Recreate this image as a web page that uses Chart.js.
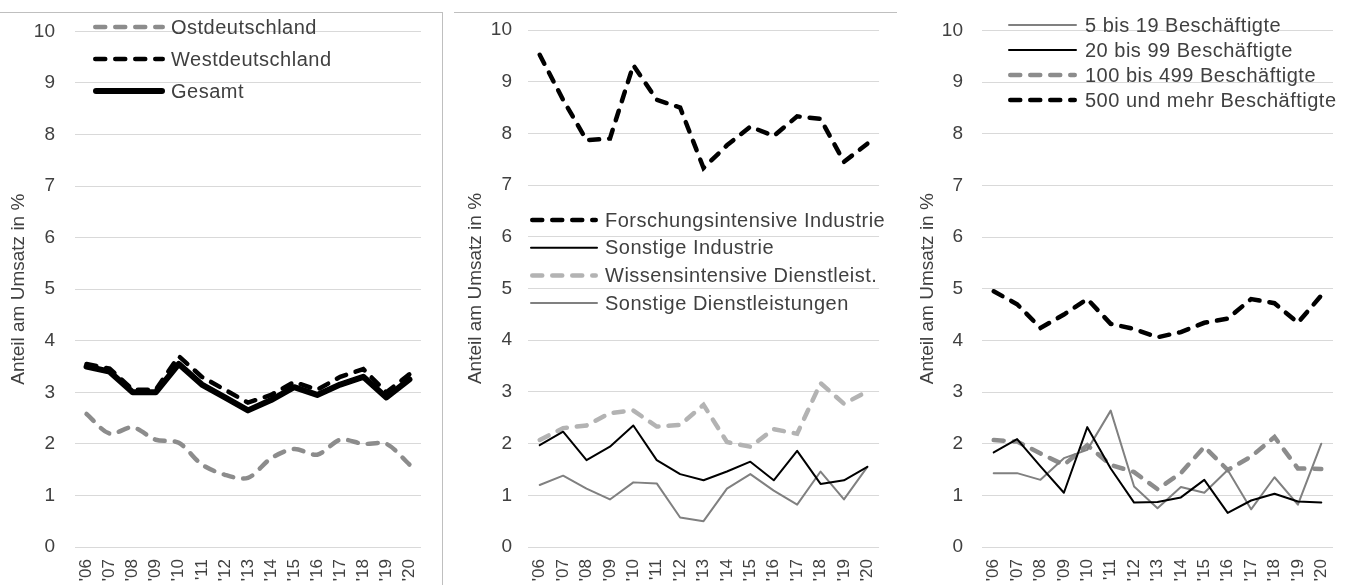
<!DOCTYPE html>
<html lang="de">
<head>
<meta charset="utf-8">
<title>Anteil am Umsatz</title>
<script src="https://cdn.jsdelivr.net/npm/chart.js@4.4.1/dist/chart.umd.min.js"></script>
<style>
    body { margin: 0; background: #fff; width: 1354px; height: 585px; overflow: hidden; position: relative; }
    .frame { position: absolute; border: 0 solid #bfbfbf; }
    .panel { position: absolute; top: 0; }
</style>
</head>
<body>
<div class="frame" style="left:0;top:12px;width:442px;height:573px;border-top-width:1px;border-right-width:1px"></div>
<div class="frame" style="left:454px;top:12px;width:443px;height:0;border-top-width:1px"></div>
<div class="panel" style="left:0"><canvas id="chart-region" width="442" height="585"></canvas></div>
<div class="panel" style="left:446px"><canvas id="chart-branch" width="454" height="585"></canvas></div>
<div class="panel" style="left:904px"><canvas id="chart-size" width="450" height="585"></canvas></div>
<script>
const years = ["'06", "'07", "'08", "'09", "'10", "'11", "'12", "'13", "'14", "'15", "'16", "'17", "'18", "'19", "'20"];
const yTicks = [0, 1, 2, 3, 4, 5, 6, 7, 8, 9, 10];
const yTitle = 'Anteil am Umsatz in %';

// Panel 1: Region
const ost = [2.58, 2.2, 2.32, 2.08, 2.02, 1.6, 1.4, 1.34, 1.72, 1.9, 1.79, 2.08, 2.0, 2.0, 1.6];
const west = [3.55, 3.46, 3.05, 3.05, 3.7, 3.3, 3.05, 2.8, 2.95, 3.2, 3.05, 3.3, 3.45, 3.0, 3.35];
const gesamt = [3.5, 3.4, 3.0, 3.0, 3.55, 3.15, 2.9, 2.65, 2.85, 3.1, 2.95, 3.15, 3.3, 2.9, 3.25];

// Panel 2: Branchen
const forschungsIndustrie = [9.52, 8.65, 7.87, 7.9, 9.32, 8.65, 8.5, 7.33, 7.77, 8.13, 7.95, 8.33, 8.28, 7.45, 7.8];
const sonstigeIndustrie = [1.97, 2.23, 1.68, 1.94, 2.35, 1.68, 1.41, 1.29, 1.46, 1.65, 1.29, 1.86, 1.22, 1.29, 1.55];
const wissensDienst = [2.07, 2.3, 2.35, 2.59, 2.64, 2.33, 2.36, 2.75, 2.03, 1.94, 2.28, 2.19, 3.17, 2.77, 3.01];
const sonstigeDienst = [1.2, 1.38, 1.13, 0.92, 1.25, 1.23, 0.57, 0.5, 1.13, 1.41, 1.09, 0.82, 1.46, 0.92, 1.55];

// Panel 3: Größenklassen
const klein = [1.43, 1.43, 1.3, 1.72, 1.88, 2.64, 1.17, 0.75, 1.16, 1.05, 1.49, 0.73, 1.35, 0.82, 2.0];
const mittel = [1.83, 2.09, 1.56, 1.05, 2.32, 1.52, 0.86, 0.87, 0.96, 1.3, 0.66, 0.9, 1.03, 0.88, 0.86];
const gross = [2.07, 2.04, 1.81, 1.59, 1.97, 1.59, 1.45, 1.12, 1.43, 1.94, 1.49, 1.75, 2.13, 1.52, 1.51];
const sehrGross = [4.95, 4.7, 4.24, 4.5, 4.8, 4.32, 4.22, 4.06, 4.16, 4.34, 4.42, 4.8, 4.72, 4.34, 4.87];

const FONT = '"Liberation Sans", Arial, sans-serif';
const TEXT = '#404040';

function dashed(label, data, color, order, tension) {
    return {
        label, data, order,
        borderColor: color,
        borderWidth: 4.5,
        borderDash: [10, 10],
        borderCapStyle: 'round',
        tension: tension || 0,
        pointRadius: 0,
        fill: false
    };
}

function solid(label, data, color, width, order) {
    return {
        label, data, order,
        borderColor: color,
        borderWidth: width,
        borderCapStyle: 'round',
        borderJoinStyle: 'round',
        tension: 0,
        pointRadius: 0,
        fill: false
    };
}

// legend drawn inside the plot, one row per dataset
const inlineLegend = {
    id: 'inlineLegend',
    afterDatasetsDraw(chart, args, opts) {
        const ctx = chart.ctx;
        ctx.save();
        ctx.font = '20px ' + FONT;
        ctx.letterSpacing = '0.5px';
        ctx.textBaseline = 'middle';
        chart.data.datasets.forEach((ds, i) => {
            const y = opts.y + i * opts.rowHeight;
            const half = ds.borderCapStyle === 'round' ? ds.borderWidth / 2 : 0;
            ctx.beginPath();
            ctx.strokeStyle = ds.borderColor;
            ctx.lineWidth = ds.borderWidth;
            ctx.lineCap = ds.borderCapStyle || 'butt';
            ctx.setLineDash(ds.borderDash || []);
            ctx.moveTo(opts.x + half, y);
            ctx.lineTo(opts.x + opts.sampleWidth - half, y);
            ctx.stroke();
            ctx.setLineDash([]);
            ctx.fillStyle = TEXT;
            ctx.fillText(ds.label, opts.x + opts.sampleWidth + opts.gap, y + 1);
        });
        ctx.restore();
    }
};

function makePanel(id, datasets, layout) {
    const ctx = document.getElementById(id).getContext('2d');
    return new Chart(ctx, {
        type: 'line',
        data: { labels: years, datasets: datasets },
        plugins: [inlineLegend],
        options: {
            responsive: false,
            animation: false,
            events: [],
            layout: { padding: { top: layout.top, right: layout.right, left: 0, bottom: 0 } },
            plugins: {
                legend: { display: false },
                tooltip: { enabled: false },
                inlineLegend: layout.legend
            },
            scales: {
                x: {
                    offset: true,
                    grid: { display: false, drawTicks: false },
                    border: { display: false },
                    ticks: {
                        autoSkip: false,
                        minRotation: 90,
                        maxRotation: 90,
                        padding: 12,
                        color: TEXT,
                        font: { family: FONT, size: 17 }
                    },
                    afterFit: s => { s.height = 38; }
                },
                y: {
                    min: yTicks[0],
                    max: yTicks[yTicks.length - 1],
                    afterBuildTicks: s => { s.ticks = yTicks.map(v => ({ value: v })); },
                    grid: { color: '#d9d9d9', lineWidth: 1, drawTicks: false },
                    border: { display: false },
                    ticks: {
                        padding: layout.tickPad,
                        color: TEXT,
                        font: { family: FONT, size: 19 }
                    },
                    title: {
                        display: true,
                        text: yTitle,
                        color: TEXT,
                        padding: { top: layout.titlePad, bottom: 0 },
                        font: { family: FONT, size: 19 }
                    },
                    afterFit: s => { s.width = layout.axisWidth; }
                }
            }
        }
    });
}

makePanel('chart-region', [
    dashed('Ostdeutschland', ost, '#8c8c8c', 2, 0.3),
    dashed('Westdeutschland', west, '#000000', 1),
    solid('Gesamt', gesamt, '#000000', 6, 0)
], {
    top: 31, right: 5, axisWidth: 75, tickPad: 20, titlePad: 7,
    legend: { x: 93, y: 27, rowHeight: 32, sampleWidth: 72, gap: 6 }
});

makePanel('chart-branch', [
    dashed('Forschungsintensive Industrie', forschungsIndustrie, '#000000', 0),
    solid('Sonstige Industrie', sonstigeIndustrie, '#000000', 2, 1),
    dashed('Wissensintensive Dienstleist.', wissensDienst, '#b3b3b3', 3),
    solid('Sonstige Dienstleistungen', sonstigeDienst, '#808080', 2, 2)
], {
    top: 30, right: 7, axisWidth: 82, tickPad: 16, titlePad: 18,
    legend: { x: 84, y: 220, rowHeight: 27.7, sampleWidth: 68, gap: 7 }
});

makePanel('chart-size', [
    solid('5 bis 19 Beschäftigte', klein, '#808080', 2, 1),
    solid('20 bis 99 Beschäftigte', mittel, '#000000', 2, 0),
    dashed('100 bis 499 Beschäftigte', gross, '#8c8c8c', 2),
    dashed('500 und mehr Beschäftigte', sehrGross, '#000000', 3)
], {
    top: 29, right: 9, axisWidth: 78, tickPad: 19, titlePad: 12,
    legend: { x: 104, y: 25, rowHeight: 25, sampleWidth: 69, gap: 8 }
});
</script>
</body>
</html>
